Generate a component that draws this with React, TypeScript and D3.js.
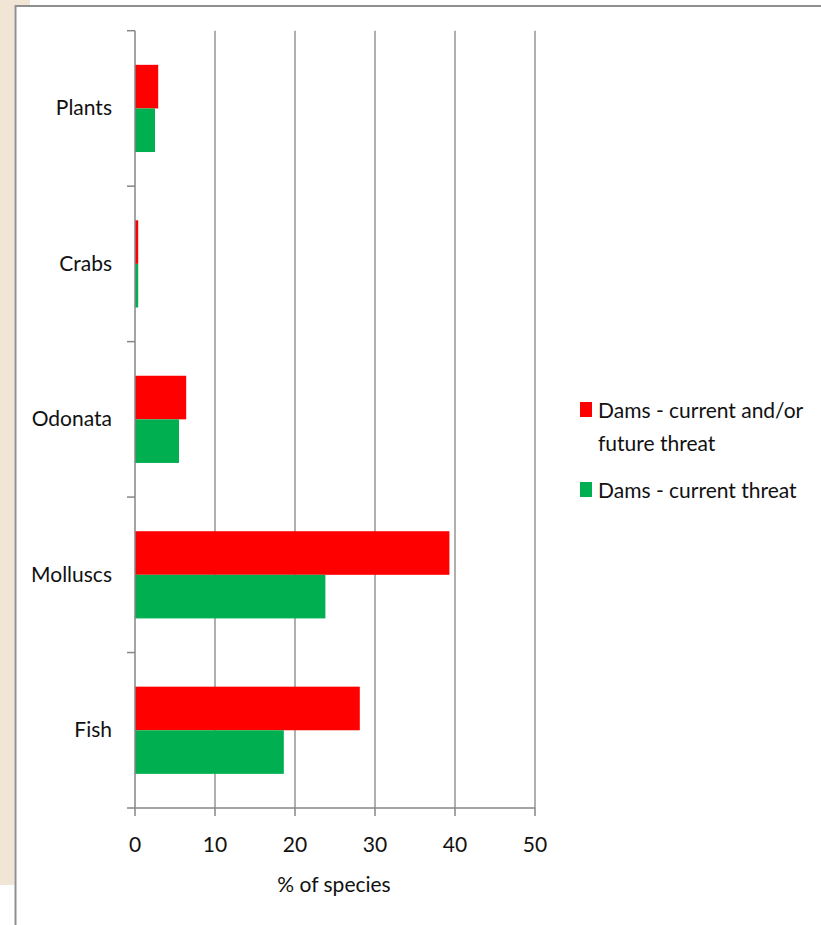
import React from "react";
import * as d3 from "d3";

const categories = ["Plants", "Crabs", "Odonata", "Molluscs", "Fish"];
const seriesNames = ["Dams - current and/or future threat", "Dams - current threat"];
const futureThreat = [2.9, 0.4, 6.4, 39.3, 28.1];
const currentThreat = [2.5, 0.4, 5.5, 23.8, 18.6];
const xTicks = [0, 10, 20, 30, 40, 50];
const colors = ["#ff0000", "#00b050"];
const xTitle = "% of species";

const W = 821;
const H = 925;
const left = 135;
const right = 535;
const top = 30.7;
const bottom = 808;
const FONT = "Lato, 'Open Sans', sans-serif";
const FS = 21;

export default function App() {
  const x = d3.scaleLinear().domain([0, 50]).range([left, right]);
  const series = [futureThreat, currentThreat];
  const bandH = (bottom - top) / categories.length;
  const catTicks = d3.range(categories.length + 1).map((i) => top + i * bandH);
  const yc = (i: number) => top + bandH * (i + 0.5);
  const barH = 43.6;

  return (
    <svg width={W} height={H} style={{ position: "absolute", left: 0, top: 0, background: "#fff" }} fontFamily={FONT}>
      <rect x={0} y={0} width={W} height={H} fill="#fff" />
      <rect x={0} y={0} width={30} height={5} fill="#f1e6d6" />
      <rect x={0} y={0} width={14.5} height={885} fill="#f1e6d6" />
      <line x1={15.5} x2={15.5} y1={5} y2={H} stroke="#8f8f8f" strokeWidth={2} />
      <line x1={15} x2={W} y1={6} y2={6} stroke="#8f8f8f" strokeWidth={2} />
      {xTicks.slice(1).map((t) => (
        <line key={t} x1={x(t)} x2={x(t)} y1={top} y2={bottom} stroke="#868686" strokeWidth={1.3} />
      ))}
      {categories.map((c, i) =>
        series.map((s, k) => (
          <rect
            key={c + k}
            x={x(0)}
            y={yc(i) - barH + k * barH}
            width={x(s[i]) - x(0)}
            height={barH}
            fill={colors[k]}
          />
        ))
      )}
      <line x1={left} x2={left} y1={top} y2={bottom} stroke="#868686" strokeWidth={1.5} />
      <line x1={left} x2={right} y1={bottom} y2={bottom} stroke="#868686" strokeWidth={1.5} />
      {catTicks.map((t, i) => (
        <line key={i} x1={127} x2={left} y1={t} y2={t} stroke="#868686" strokeWidth={1.5} />
      ))}
      {xTicks.map((t) => (
        <line key={t} x1={x(t)} x2={x(t)} y1={bottom} y2={bottom + 8} stroke="#868686" strokeWidth={1.5} />
      ))}
      {categories.map((c, i) => (
        <text key={c} x={112} y={yc(i) + 7} textAnchor="end" fontSize={FS} fill="#111">
          {c}
        </text>
      ))}
      {xTicks.map((t) => (
        <text key={t} x={x(t)} y={852} textAnchor="middle" fontSize={FS} fill="#111">
          {t}
        </text>
      ))}
      <text x={334} y={892} textAnchor="middle" fontSize={FS} fill="#111">
        {xTitle}
      </text>
      <rect x={580} y={402} width={12} height={15} fill={colors[0]} />
      <text x={598} y={418} fontSize={FS} fill="#111">Dams - current and/or</text>
      <text x={598} y={451} fontSize={FS} fill="#111">future threat</text>
      <rect x={580} y={482} width={12} height={15} fill={colors[1]} />
      <text x={598} y={498} fontSize={FS} fill="#111">{seriesNames[1]}</text>
    </svg>
  );
}
